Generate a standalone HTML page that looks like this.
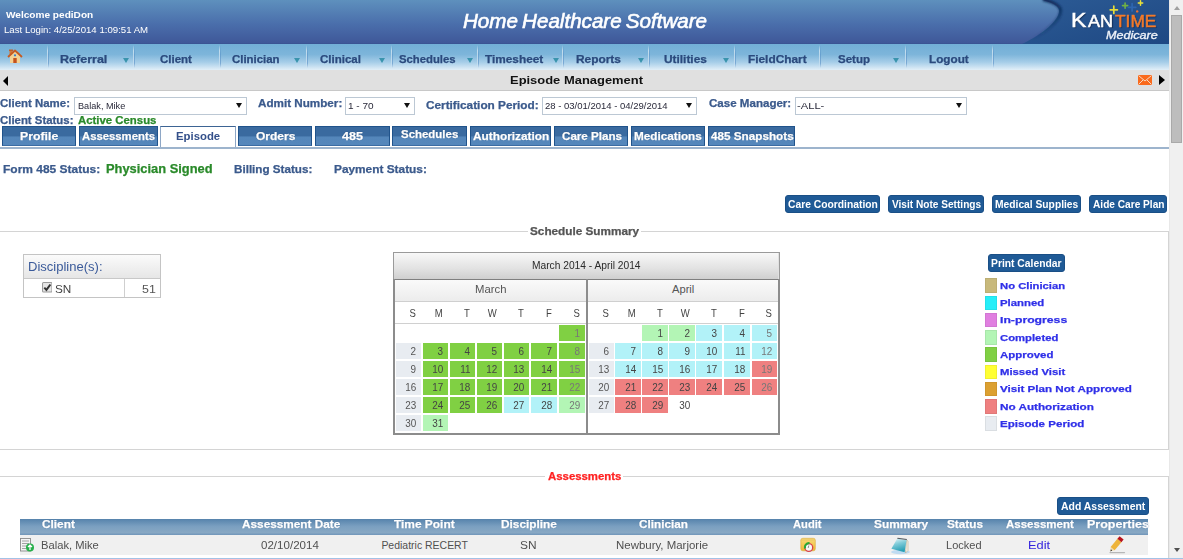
<!DOCTYPE html>
<html><head><meta charset="utf-8"><title>Episode Management</title>
<style>
html,body{margin:0;padding:0;}
body{width:1183px;height:559px;overflow:hidden;position:relative;background:#fff;font-family:"Liberation Sans", sans-serif;}
.b{position:absolute;box-sizing:border-box;}
.t{position:absolute;white-space:nowrap;line-height:1;transform-origin:0 0;}
</style></head><body>
<div class="b" style="left:0px;top:0px;width:1169px;height:44px;background:linear-gradient(#5e90bd,#4a6eab 55%,#3f5899 97%,#3a5494 97%);"></div><svg class="b" style="left:1000px;top:0;width:169px;height:44px" viewBox="0 0 169 44">
<defs><linearGradient id="lg" x1="0" y1="0" x2="1" y2="1"><stop offset="0" stop-color="#2c5b95"/><stop offset="1" stop-color="#1e4883"/></linearGradient>
<filter id="bl" x="-20%" y="-20%" width="140%" height="140%"><feGaussianBlur stdDeviation="0.9"/></filter>
<linearGradient id="sh" gradientUnits="userSpaceOnUse" x1="0" y1="0" x2="0" y2="40"><stop offset="0" stop-color="#0a2450" stop-opacity="0.9"/><stop offset="0.45" stop-color="#0a2450" stop-opacity="0.45"/><stop offset="1" stop-color="#0a2450" stop-opacity="0"/></linearGradient></defs>
<path d="M42,0 C54,3 60,7 59,12 C58,20 45,33 22,44 L169,44 L169,0 Z" fill="url(#lg)"/>
<path d="M43,-0.5 C55,2.5 61.5,7 60.5,12 C59.5,20 46.5,33 23.5,44" fill="none" stroke="url(#sh)" stroke-width="3.2" filter="url(#bl)"/>
<g stroke-linecap="round">
<path d="M113.8,6.2 v7.2 M110.2,9.8 h7.2" stroke="#e6dc38" stroke-width="1.7"/>
<path d="M125.1,3 v5.2 M122.5,5.6 h5.2" stroke="#70b244" stroke-width="1.6"/>
<path d="M132.1,3.6 v7.4 M128.4,7.3 h7.4" stroke="#2e66b0" stroke-width="1.7"/>
<path d="M140.5,0.8 v4.4 M138.3,3 h4.4" stroke="#ece23a" stroke-width="1.5"/>
</g>
<circle cx="137.2" cy="11.4" r="1.2" fill="#f07030"/>
</svg><div class="b" style="left:0px;top:44px;width:1169px;height:26px;background:linear-gradient(#72afd7 0px,#7db5da 40%,#a6cde8 70%,#e2eff8 100%);"></div><div class="b" style="left:48px;top:45px;width:1px;height:23px;background:linear-gradient(rgba(60,120,185,0),rgba(60,120,185,.35) 40%,rgba(60,120,185,.45) 80%,rgba(60,120,185,0));"></div><div class="b" style="left:47px;top:45px;width:1px;height:23px;background:linear-gradient(rgba(255,255,255,0),rgba(255,255,255,.55) 25%,rgba(255,255,255,.35) 70%,rgba(255,255,255,0));"></div><div class="b" style="left:134px;top:45px;width:1px;height:23px;background:linear-gradient(rgba(60,120,185,0),rgba(60,120,185,.35) 40%,rgba(60,120,185,.45) 80%,rgba(60,120,185,0));"></div><div class="b" style="left:133px;top:45px;width:1px;height:23px;background:linear-gradient(rgba(255,255,255,0),rgba(255,255,255,.55) 25%,rgba(255,255,255,.35) 70%,rgba(255,255,255,0));"></div><div class="b" style="left:220px;top:45px;width:1px;height:23px;background:linear-gradient(rgba(60,120,185,0),rgba(60,120,185,.35) 40%,rgba(60,120,185,.45) 80%,rgba(60,120,185,0));"></div><div class="b" style="left:219px;top:45px;width:1px;height:23px;background:linear-gradient(rgba(255,255,255,0),rgba(255,255,255,.55) 25%,rgba(255,255,255,.35) 70%,rgba(255,255,255,0));"></div><div class="b" style="left:307px;top:45px;width:1px;height:23px;background:linear-gradient(rgba(60,120,185,0),rgba(60,120,185,.35) 40%,rgba(60,120,185,.45) 80%,rgba(60,120,185,0));"></div><div class="b" style="left:306px;top:45px;width:1px;height:23px;background:linear-gradient(rgba(255,255,255,0),rgba(255,255,255,.55) 25%,rgba(255,255,255,.35) 70%,rgba(255,255,255,0));"></div><div class="b" style="left:392px;top:45px;width:1px;height:23px;background:linear-gradient(rgba(60,120,185,0),rgba(60,120,185,.35) 40%,rgba(60,120,185,.45) 80%,rgba(60,120,185,0));"></div><div class="b" style="left:391px;top:45px;width:1px;height:23px;background:linear-gradient(rgba(255,255,255,0),rgba(255,255,255,.55) 25%,rgba(255,255,255,.35) 70%,rgba(255,255,255,0));"></div><div class="b" style="left:478px;top:45px;width:1px;height:23px;background:linear-gradient(rgba(60,120,185,0),rgba(60,120,185,.35) 40%,rgba(60,120,185,.45) 80%,rgba(60,120,185,0));"></div><div class="b" style="left:477px;top:45px;width:1px;height:23px;background:linear-gradient(rgba(255,255,255,0),rgba(255,255,255,.55) 25%,rgba(255,255,255,.35) 70%,rgba(255,255,255,0));"></div><div class="b" style="left:563px;top:45px;width:1px;height:23px;background:linear-gradient(rgba(60,120,185,0),rgba(60,120,185,.35) 40%,rgba(60,120,185,.45) 80%,rgba(60,120,185,0));"></div><div class="b" style="left:562px;top:45px;width:1px;height:23px;background:linear-gradient(rgba(255,255,255,0),rgba(255,255,255,.55) 25%,rgba(255,255,255,.35) 70%,rgba(255,255,255,0));"></div><div class="b" style="left:649px;top:45px;width:1px;height:23px;background:linear-gradient(rgba(60,120,185,0),rgba(60,120,185,.35) 40%,rgba(60,120,185,.45) 80%,rgba(60,120,185,0));"></div><div class="b" style="left:648px;top:45px;width:1px;height:23px;background:linear-gradient(rgba(255,255,255,0),rgba(255,255,255,.55) 25%,rgba(255,255,255,.35) 70%,rgba(255,255,255,0));"></div><div class="b" style="left:735px;top:45px;width:1px;height:23px;background:linear-gradient(rgba(60,120,185,0),rgba(60,120,185,.35) 40%,rgba(60,120,185,.45) 80%,rgba(60,120,185,0));"></div><div class="b" style="left:734px;top:45px;width:1px;height:23px;background:linear-gradient(rgba(255,255,255,0),rgba(255,255,255,.55) 25%,rgba(255,255,255,.35) 70%,rgba(255,255,255,0));"></div><div class="b" style="left:820px;top:45px;width:1px;height:23px;background:linear-gradient(rgba(60,120,185,0),rgba(60,120,185,.35) 40%,rgba(60,120,185,.45) 80%,rgba(60,120,185,0));"></div><div class="b" style="left:819px;top:45px;width:1px;height:23px;background:linear-gradient(rgba(255,255,255,0),rgba(255,255,255,.55) 25%,rgba(255,255,255,.35) 70%,rgba(255,255,255,0));"></div><div class="b" style="left:906px;top:45px;width:1px;height:23px;background:linear-gradient(rgba(60,120,185,0),rgba(60,120,185,.35) 40%,rgba(60,120,185,.45) 80%,rgba(60,120,185,0));"></div><div class="b" style="left:905px;top:45px;width:1px;height:23px;background:linear-gradient(rgba(255,255,255,0),rgba(255,255,255,.55) 25%,rgba(255,255,255,.35) 70%,rgba(255,255,255,0));"></div><div class="b" style="left:993px;top:45px;width:1px;height:23px;background:linear-gradient(rgba(60,120,185,0),rgba(60,120,185,.35) 40%,rgba(60,120,185,.45) 80%,rgba(60,120,185,0));"></div><div class="b" style="left:992px;top:45px;width:1px;height:23px;background:linear-gradient(rgba(255,255,255,0),rgba(255,255,255,.55) 25%,rgba(255,255,255,.35) 70%,rgba(255,255,255,0));"></div><div class="b" style="left:122.5px;top:58px;width:0;height:0;border-left:3px solid transparent;border-right:3px solid transparent;border-top:5px solid #3a94ad;"></div><div class="b" style="left:294.0px;top:58px;width:0;height:0;border-left:3px solid transparent;border-right:3px solid transparent;border-top:5px solid #3a94ad;"></div><div class="b" style="left:379.4px;top:58px;width:0;height:0;border-left:3px solid transparent;border-right:3px solid transparent;border-top:5px solid #3a94ad;"></div><div class="b" style="left:467.4px;top:58px;width:0;height:0;border-left:3px solid transparent;border-right:3px solid transparent;border-top:5px solid #3a94ad;"></div><div class="b" style="left:553.0px;top:58px;width:0;height:0;border-left:3px solid transparent;border-right:3px solid transparent;border-top:5px solid #3a94ad;"></div><div class="b" style="left:637.6px;top:58px;width:0;height:0;border-left:3px solid transparent;border-right:3px solid transparent;border-top:5px solid #3a94ad;"></div><div class="b" style="left:723.0px;top:58px;width:0;height:0;border-left:3px solid transparent;border-right:3px solid transparent;border-top:5px solid #3a94ad;"></div><div class="b" style="left:893.0px;top:58px;width:0;height:0;border-left:3px solid transparent;border-right:3px solid transparent;border-top:5px solid #3a94ad;"></div><svg class="b" style="left:7px;top:49px;width:16px;height:15px" viewBox="0 0 16 15">
<rect x="2.5" y="1" width="3" height="4" fill="#d07a3a"/>
<rect x="2" y="0.5" width="4" height="1.5" fill="#c0602a"/>
<path d="M3,7 L3,14 L13,14 L13,7 L8,2.5 Z" fill="#f4d193"/>
<path d="M1,8 L8,1.5 L15,8" fill="none" stroke="#c85a1e" stroke-width="1.8" stroke-linejoin="round"/>
<rect x="6.3" y="9" width="3.4" height="5" fill="#c4521c"/>
<circle cx="8" cy="6.3" r="1.1" fill="#2f7fd0"/>
</svg><div class="b" style="left:0px;top:70px;width:1169px;height:21px;background:#e0e0e0;border-bottom:1px solid #c8c8c8;"></div><div class="b" style="left:2.8px;top:75.5px;width:0;height:0;border-top:5px solid transparent;border-bottom:5px solid transparent;border-right:5.8px solid #000;"></div><div class="b" style="left:1159.3px;top:75.3px;width:0;height:0;border-top:5px solid transparent;border-bottom:5px solid transparent;border-left:6.2px solid #000;"></div><svg class="b" style="left:1138.2px;top:75.2px;width:14px;height:10px" viewBox="0 0 14 10">
<rect x="0" y="0" width="14" height="10" rx="1.2" fill="#fa6a1c"/>
<path d="M0.8,0.8 L7,6 L13.2,0.8 M0.8,9.2 L5,5 M13.2,9.2 L9,5" fill="none" stroke="#f6e6d6" stroke-width="0.9"/>
</svg><div class="b" style="left:74px;top:97px;width:173px;height:18px;border:1px solid #a9a9a9;border-color:#bcc8d4;background:#fff;"></div><div class="b" style="left:345px;top:97px;width:69.5px;height:18px;border:1px solid #a9a9a9;border-color:#bcc8d4;background:#fff;"></div><div class="b" style="left:542px;top:97px;width:155.39999999999998px;height:18px;border:1px solid #a9a9a9;border-color:#bcc8d4;background:#fff;"></div><div class="b" style="left:794.5px;top:97px;width:172.20000000000005px;height:18px;border:1px solid #a9a9a9;border-color:#bcc8d4;background:#fff;"></div><div class="b" style="left:235.6px;top:102.5px;width:0;height:0;border-left:3px solid transparent;border-right:3px solid transparent;border-top:5.5px solid #111;"></div><div class="b" style="left:403.6px;top:102.5px;width:0;height:0;border-left:3px solid transparent;border-right:3px solid transparent;border-top:5.5px solid #111;"></div><div class="b" style="left:686.0px;top:102.5px;width:0;height:0;border-left:3px solid transparent;border-right:3px solid transparent;border-top:5.5px solid #111;"></div><div class="b" style="left:955.5px;top:102.5px;width:0;height:0;border-left:3px solid transparent;border-right:3px solid transparent;border-top:5.5px solid #111;"></div><div class="b" style="left:2px;top:126px;width:74px;height:20px;border:1px solid #20538b;border-bottom-color:#3b6ca3;background:linear-gradient(#3a6a9f 0,#3a6a9f 50%,#5486ba 55%,#5587bb 100%);"></div><div class="b" style="left:79px;top:126px;width:79px;height:20px;border:1px solid #20538b;border-bottom-color:#3b6ca3;background:linear-gradient(#3a6a9f 0,#3a6a9f 50%,#5486ba 55%,#5587bb 100%);"></div><div class="b" style="left:238px;top:126px;width:74.39999999999998px;height:20px;border:1px solid #20538b;border-bottom-color:#3b6ca3;background:linear-gradient(#3a6a9f 0,#3a6a9f 50%,#5486ba 55%,#5587bb 100%);"></div><div class="b" style="left:315px;top:126px;width:74.5px;height:20px;border:1px solid #20538b;border-bottom-color:#3b6ca3;background:linear-gradient(#3a6a9f 0,#3a6a9f 50%,#5486ba 55%,#5587bb 100%);"></div><div class="b" style="left:392px;top:126px;width:74.69999999999999px;height:20px;border:1px solid #20538b;border-bottom-color:#3b6ca3;background:linear-gradient(#3a6a9f 0,#3a6a9f 50%,#5486ba 55%,#5587bb 100%);"></div><div class="b" style="left:469.7px;top:126px;width:81.30000000000001px;height:20px;border:1px solid #20538b;border-bottom-color:#3b6ca3;background:linear-gradient(#3a6a9f 0,#3a6a9f 50%,#5486ba 55%,#5587bb 100%);"></div><div class="b" style="left:553.8px;top:126px;width:74.40000000000009px;height:20px;border:1px solid #20538b;border-bottom-color:#3b6ca3;background:linear-gradient(#3a6a9f 0,#3a6a9f 50%,#5486ba 55%,#5587bb 100%);"></div><div class="b" style="left:631.1px;top:126px;width:74.29999999999995px;height:20px;border:1px solid #20538b;border-bottom-color:#3b6ca3;background:linear-gradient(#3a6a9f 0,#3a6a9f 50%,#5486ba 55%,#5587bb 100%);"></div><div class="b" style="left:707.9px;top:126px;width:87.20000000000005px;height:20px;border:1px solid #20538b;border-bottom-color:#3b6ca3;background:linear-gradient(#3a6a9f 0,#3a6a9f 50%,#5486ba 55%,#5587bb 100%);"></div><div class="b" style="left:160px;top:125.7px;width:75.5px;height:21.3px;border-top:1.6px solid #3d6494;border-left:1.8px solid #8ea7c6;border-right:1.4px solid #8ea7c6;background:#fff;"></div><div class="b" style="left:0px;top:147px;width:1169px;height:2px;background:#9db4cd;"></div><div class="b" style="left:785px;top:195.4px;width:95.29999999999995px;height:17.400000000000006px;background:#1f5a96;border-radius:3px;border:1px solid #1a4f86;"></div><div class="b" style="left:887.6px;top:195.4px;width:96.39999999999998px;height:17.400000000000006px;background:#1f5a96;border-radius:3px;border:1px solid #1a4f86;"></div><div class="b" style="left:991.5px;top:195.4px;width:89.5px;height:17.400000000000006px;background:#1f5a96;border-radius:3px;border:1px solid #1a4f86;"></div><div class="b" style="left:1088.7px;top:195.4px;width:78.59999999999991px;height:17.400000000000006px;background:#1f5a96;border-radius:3px;border:1px solid #1a4f86;"></div><div class="b" style="left:988.1px;top:254.4px;width:76.99999999999989px;height:17.49999999999997px;background:#1f5a96;border-radius:3px;border:1px solid #1a4f86;"></div><div class="b" style="left:1057.3px;top:497.1px;width:91.29999999999995px;height:18.299999999999955px;background:#1f5a96;border-radius:3px;border:1px solid #1a4f86;"></div><div class="b" style="left:0px;top:231px;width:527.7px;height:1px;background:#d4d4d4;"></div><div class="b" style="left:641.4px;top:231px;width:527.1px;height:1px;background:#d4d4d4;"></div><div class="b" style="left:1168px;top:231px;width:1px;height:219px;background:#d4d4d4;"></div><div class="b" style="left:0px;top:449px;width:1169px;height:1px;background:#d4d4d4;"></div><div class="b" style="left:0px;top:476px;width:545.4px;height:1px;background:#d4d4d4;"></div><div class="b" style="left:623px;top:476px;width:545.5px;height:1px;background:#d4d4d4;"></div><div class="b" style="left:1168px;top:476px;width:1px;height:83px;background:#d4d4d4;"></div><div class="b" style="left:23px;top:254px;width:138px;height:44px;border:1px solid #c4c4c4;background:#fff;"></div><div class="b" style="left:24px;top:255px;width:136px;height:24px;background:linear-gradient(#fbfbfb,#e6e6e6);border-bottom:1px solid #c8c8c8;"></div><div class="b" style="left:124px;top:279px;width:1px;height:18px;background:#cfcfcf;"></div><svg class="b" style="left:41.6px;top:282px;width:10.5px;height:10.5px" viewBox="0 0 10 10">
<rect x="0.5" y="0.5" width="9" height="9" rx="1" fill="#e6e6e6" stroke="#9a9a9a"/>
<path d="M2.2,5.4 L4.2,7.5 L8,2.4" fill="none" stroke="#333" stroke-width="1.9"/>
</svg><div class="b" style="left:393px;top:252px;width:387px;height:182px;border:1px solid #9a9a9a;background:#fff;"></div><div class="b" style="left:394px;top:253px;width:385px;height:26px;background:linear-gradient(#f8f8f8,#e2e2e2 60%,#cfcfcf);border-right:1px solid #e0e0e0;"></div><div class="b" style="left:393px;top:279px;width:387px;height:1px;background:#7f7f7f;"></div><div class="b" style="left:393px;top:279px;width:2px;height:155px;background:#8c8c8c;"></div><div class="b" style="left:778px;top:279px;width:2px;height:155px;background:#8c8c8c;"></div><div class="b" style="left:393px;top:433px;width:387px;height:2px;background:#8c8c8c;"></div><div class="b" style="left:586px;top:279px;width:2px;height:155px;background:#8c8c8c;"></div><div class="b" style="left:395px;top:280px;width:191px;height:21px;background:linear-gradient(#fafafa,#ececec);"></div><div class="b" style="left:588px;top:280px;width:190px;height:21px;background:linear-gradient(#fafafa,#ececec);"></div><div class="b" style="left:395px;top:301px;width:191px;height:1px;background:#cfcfcf;"></div><div class="b" style="left:588px;top:301px;width:190px;height:1px;background:#cfcfcf;"></div><div class="b" style="left:395px;top:323px;width:191px;height:1px;background:#d0d0d0;"></div><div class="b" style="left:588px;top:323px;width:190px;height:1px;background:#d0d0d0;"></div><div class="b" style="left:984.5px;top:278.0px;width:12px;height:14.5px;background:#c8b97b;border:1px solid rgba(0,0,0,0.06);"></div><div class="b" style="left:984.5px;top:295.5px;width:12px;height:14.5px;background:#26eef8;border:1px solid rgba(0,0,0,0.06);"></div><div class="b" style="left:984.5px;top:312.5px;width:12px;height:14.5px;background:#e07fe0;border:1px solid rgba(0,0,0,0.06);"></div><div class="b" style="left:984.5px;top:330.0px;width:12px;height:14.5px;background:#b3f5b5;border:1px solid rgba(0,0,0,0.06);"></div><div class="b" style="left:984.5px;top:347.0px;width:12px;height:14.5px;background:#80d043;border:1px solid rgba(0,0,0,0.06);"></div><div class="b" style="left:984.5px;top:364.5px;width:12px;height:14.5px;background:#ffff33;border:1px solid rgba(0,0,0,0.06);"></div><div class="b" style="left:984.5px;top:381.5px;width:12px;height:14.5px;background:#dca030;border:1px solid rgba(0,0,0,0.06);"></div><div class="b" style="left:984.5px;top:399.0px;width:12px;height:14.5px;background:#ef8080;border:1px solid rgba(0,0,0,0.06);"></div><div class="b" style="left:984.5px;top:416.0px;width:12px;height:14.5px;background:#e8ecf1;border:1px solid rgba(0,0,0,0.06);"></div><div class="b" style="left:20px;top:519px;width:1128px;height:16px;background:linear-gradient(#5683ac,#7a9fc0 45%,#88a8c4 85%,#6f95b9 100%);"></div><div class="b" style="left:20px;top:535px;width:1128px;height:20px;background:#f0f0f0;"></div><svg class="b" style="left:20px;top:538px;width:15px;height:14px" viewBox="0 0 15 14">
<rect x="0.5" y="0.5" width="10" height="12.5" fill="#f4f4f4" stroke="#8a8a8a" stroke-width="0.9"/>
<path d="M2,3 h7 M2,5.5 h7 M2,8 h5 M2,10.5 h4" stroke="#9a9a9a" stroke-width="0.9"/>
<circle cx="10" cy="9.5" r="4" fill="#27b04a"/>
<path d="M10,7 v5 M8,9 L10,7 L12,9" stroke="#fff" stroke-width="1.2" fill="none"/>
</svg><svg class="b" style="left:800px;top:537px;width:17px;height:17px" viewBox="0 0 17 17">
<defs><linearGradient id="ag" x1="0" y1="0" x2="0" y2="1"><stop offset="0" stop-color="#f8dc7a"/><stop offset="1" stop-color="#eeb632"/></linearGradient></defs>
<rect x="0.8" y="1.3" width="14.5" height="12.5" rx="2" fill="url(#ag)" stroke="#d9a638" stroke-width="0.6"/>
<path d="M1.5,3 h13" stroke="#e8c060" stroke-width="0.8"/>
<circle cx="8.8" cy="10.5" r="3.9" fill="#f4f8f6" stroke="#d8404a" stroke-width="1.3"/>
<path d="M5,11.5 A4.2,4.2 0 0 1 9.5,6.2" fill="none" stroke="#2aa836" stroke-width="2.2"/>
<path d="M8.8,8.5 L8.2,11" stroke="#777" stroke-width="0.8"/>
</svg><svg class="b" style="left:888px;top:536px;width:24px;height:19px" viewBox="0 0 24 19">
<defs><linearGradient id="sg" x1="0" y1="0" x2="0.3" y2="1"><stop offset="0" stop-color="#e8f8fb"/><stop offset="0.45" stop-color="#7fcbd8"/><stop offset="1" stop-color="#2aa0b6"/></linearGradient></defs>
<ellipse cx="12.5" cy="16" rx="9.5" ry="2.2" fill="#a9d2f2" opacity="0.7"/>
<path d="M18.6,4 L20,5 L20,14.5 L17.5,17 Z" fill="#f2f0e6" stroke="#b4a27a" stroke-width="0.5"/>
<path d="M9.1,2.8 L18.6,4 L16.6,16.3 L3.4,12.7 Z" fill="url(#sg)"/>
<path d="M9.6,1.8 L19,3 L18.6,4 L9.1,2.8 Z" fill="#555a60"/>
</svg><svg class="b" style="left:1106px;top:534px;width:22px;height:21px" viewBox="0 0 22 21">
<path d="M4,18.6 L18.5,18.6" stroke="#8a8a8a" stroke-width="1.2" opacity="0.55" stroke-linecap="round"/>
<path d="M8.65,16.27 L4.65,12.93 L4.4,17.3 Z" fill="#f2dcae"/>
<path d="M6.1,16.5 L4.9,15.3 L4.4,17.5 Z" fill="#222"/>
<path d="M8.65,16.27 L4.65,12.93 L11.4,4.83 L15.4,8.17 Z" fill="#eeb43a"/>
<path d="M15.4,8.17 L11.4,4.83 L13.6,2.13 L17.6,5.47 Z" fill="#b8141c"/>
</svg><div class="b" style="left:1169px;top:0px;width:14px;height:559px;background:#f0f0f0;border-left:1px solid #e8e8e8;"></div><div class="b" style="left:1171px;top:15px;width:11px;height:128px;background:#bdbdbd;border:1px solid #a9a9a9;"></div><div class="b" style="left:1173.5px;top:5.5px;width:0;height:0;border-left:3.5px solid transparent;border-right:3.5px solid transparent;border-bottom:4px solid #a0a0a0;"></div><div class="b" style="left:1173.5px;top:548px;width:0;height:0;border-left:3.5px solid transparent;border-right:3.5px solid transparent;border-top:4px solid #505050;"></div><div class="b" style="left:0px;top:558px;width:1183px;height:1px;background:#a3c2e6;"></div>
<span class="t" style="left:6.40px;top:11px;font-size:8.94px;color:#ffffff;font-weight:bold;transform:scaleX(1.1299);">Welcome pediDon</span><span class="t" style="left:4.32px;top:26px;font-size:8.94px;color:#ffffff;transform:scaleX(1.0803);">Last Login: 4/25/2014 1:09:51 AM</span><span class="t" style="left:463.20px;top:12px;font-size:19.60px;color:#ffffff;font-style:italic;transform:scaleX(1.0509);-webkit-text-stroke:0.6px #fff;word-spacing:-1.5px;">Home Healthcare Software</span><span class="t" style="left:1071.10px;top:9px;font-size:21.00px;color:#ffffff;transform:scaleX(1.1000);-webkit-text-stroke:0.5px #fff;text-shadow:1px 1px 1px rgba(0,0,20,.45);">K</span><span class="t" style="left:1087.50px;top:13px;font-size:16.50px;color:#ffffff;transform:scaleX(1.0955);-webkit-text-stroke:0.5px #fff;text-shadow:1px 1px 1px rgba(0,0,20,.45);">AN</span><span class="t" style="left:1114.90px;top:13px;font-size:16.50px;color:#f47a2a;transform:scaleX(1.0487);-webkit-text-stroke:0.5px #f47a2a;text-shadow:1px 1px 1px rgba(0,0,20,.45);">TIME</span><span class="t" style="left:1105.60px;top:30px;font-size:10.60px;color:#f0f4fa;font-style:italic;transform:scaleX(1.1884);-webkit-text-stroke:0.3px #f0f4fa;">Medicare</span><span class="t" style="left:59.77px;top:55px;font-size:10.20px;color:#2b4a7d;font-weight:bold;transform:scaleX(1.2297);-webkit-text-stroke:0.25px currentColor;">Referral</span><span class="t" style="left:160.00px;top:55px;font-size:10.20px;color:#2b4a7d;font-weight:bold;transform:scaleX(1.1250);-webkit-text-stroke:0.25px currentColor;">Client</span><span class="t" style="left:232.00px;top:55px;font-size:10.20px;color:#2b4a7d;font-weight:bold;transform:scaleX(1.1190);-webkit-text-stroke:0.25px currentColor;">Clinician</span><span class="t" style="left:320.30px;top:55px;font-size:10.20px;color:#2b4a7d;font-weight:bold;transform:scaleX(1.1278);-webkit-text-stroke:0.25px currentColor;">Clinical</span><span class="t" style="left:399.40px;top:55px;font-size:10.20px;color:#2b4a7d;font-weight:bold;transform:scaleX(1.1098);-webkit-text-stroke:0.25px currentColor;">Schedules</span><span class="t" style="left:485.00px;top:55px;font-size:10.20px;color:#2b4a7d;font-weight:bold;transform:scaleX(1.1600);-webkit-text-stroke:0.25px currentColor;">Timesheet</span><span class="t" style="left:576.03px;top:55px;font-size:10.20px;color:#2b4a7d;font-weight:bold;transform:scaleX(1.1676);-webkit-text-stroke:0.25px currentColor;">Reports</span><span class="t" style="left:663.50px;top:55px;font-size:10.20px;color:#2b4a7d;font-weight:bold;transform:scaleX(1.1649);-webkit-text-stroke:0.25px currentColor;">Utilities</span><span class="t" style="left:747.84px;top:55px;font-size:10.20px;color:#2b4a7d;font-weight:bold;transform:scaleX(1.1633);-webkit-text-stroke:0.25px currentColor;">FieldChart</span><span class="t" style="left:838.00px;top:55px;font-size:10.20px;color:#2b4a7d;font-weight:bold;transform:scaleX(1.1286);-webkit-text-stroke:0.25px currentColor;">Setup</span><span class="t" style="left:928.85px;top:55px;font-size:10.20px;color:#2b4a7d;font-weight:bold;transform:scaleX(1.1515);-webkit-text-stroke:0.25px currentColor;">Logout</span><span class="t" style="left:509.67px;top:75px;font-size:11.45px;color:#111111;font-weight:bold;transform:scaleX(1.1310);">Episode Management</span><span class="t" style="left:0.30px;top:99px;font-size:10.40px;color:#3b5a8c;font-weight:bold;transform:scaleX(1.1016);-webkit-text-stroke:0.25px currentColor;">Client Name:</span><span class="t" style="left:258.30px;top:99px;font-size:10.40px;color:#3b5a8c;font-weight:bold;transform:scaleX(1.1230);-webkit-text-stroke:0.25px currentColor;">Admit Number:</span><span class="t" style="left:426.00px;top:101px;font-size:10.40px;color:#3b5a8c;font-weight:bold;transform:scaleX(1.1347);-webkit-text-stroke:0.25px currentColor;">Certification Period:</span><span class="t" style="left:708.80px;top:99px;font-size:10.40px;color:#3b5a8c;font-weight:bold;transform:scaleX(1.1123);-webkit-text-stroke:0.25px currentColor;">Case Manager:</span><span class="t" style="left:0.30px;top:116px;font-size:10.20px;color:#3b5a8c;font-weight:bold;transform:scaleX(1.1185);-webkit-text-stroke:0.25px currentColor;">Client Status:</span><span class="t" style="left:77.80px;top:116px;font-size:10.20px;color:#2a8a2a;font-weight:bold;transform:scaleX(1.1171);-webkit-text-stroke:0.25px currentColor;">Active Census</span><span class="t" style="left:77.57px;top:101px;font-size:9.90px;color:#2a2a3a;transform:scaleX(0.9265);">Balak, Mike</span><span class="t" style="left:348.49px;top:101px;font-size:9.90px;color:#2a2a3a;transform:scaleX(1.0125);">1 - 70</span><span class="t" style="left:544.74px;top:101px;font-size:9.90px;color:#2a2a3a;transform:scaleX(0.9627);">28 - 03/01/2014 - 04/29/2014</span><span class="t" style="left:796.57px;top:101px;font-size:9.90px;color:#2a2a3a;transform:scaleX(1.1318);">-ALL-</span><span class="t" style="left:19.81px;top:132px;font-size:10.30px;color:#ffffff;font-weight:bold;transform:scaleX(1.1935);text-shadow:0 0 1px #1a3a66;-webkit-text-stroke:0.25px currentColor;">Profile</span><span class="t" style="left:82.20px;top:132px;font-size:10.30px;color:#ffffff;font-weight:bold;transform:scaleX(1.0985);text-shadow:0 0 1px #1a3a66;-webkit-text-stroke:0.25px currentColor;">Assessments</span><span class="t" style="left:255.80px;top:132px;font-size:10.30px;color:#ffffff;font-weight:bold;transform:scaleX(1.1667);text-shadow:0 0 1px #1a3a66;-webkit-text-stroke:0.25px currentColor;">Orders</span><span class="t" style="left:341.80px;top:132px;font-size:10.30px;color:#ffffff;font-weight:bold;transform:scaleX(1.2235);text-shadow:0 0 1px #1a3a66;-webkit-text-stroke:0.25px currentColor;">485</span><span class="t" style="left:401.20px;top:130px;font-size:10.30px;color:#ffffff;font-weight:bold;transform:scaleX(1.1118);text-shadow:0 0 1px #1a3a66;-webkit-text-stroke:0.25px currentColor;">Schedules</span><span class="t" style="left:472.60px;top:132px;font-size:10.30px;color:#ffffff;font-weight:bold;transform:scaleX(1.1485);text-shadow:0 0 1px #1a3a66;-webkit-text-stroke:0.25px currentColor;">Authorization</span><span class="t" style="left:561.60px;top:132px;font-size:10.30px;color:#ffffff;font-weight:bold;transform:scaleX(1.1283);text-shadow:0 0 1px #1a3a66;-webkit-text-stroke:0.25px currentColor;">Care Plans</span><span class="t" style="left:634.46px;top:132px;font-size:10.30px;color:#ffffff;font-weight:bold;transform:scaleX(1.1397);text-shadow:0 0 1px #1a3a66;-webkit-text-stroke:0.25px currentColor;">Medications</span><span class="t" style="left:711.00px;top:132px;font-size:10.30px;color:#ffffff;font-weight:bold;transform:scaleX(1.1375);text-shadow:0 0 1px #1a3a66;-webkit-text-stroke:0.25px currentColor;">485 Snapshots</span><span class="t" style="left:175.90px;top:132px;font-size:10.30px;color:#34508a;font-weight:bold;transform:scaleX(1.1026);">Episode</span><span class="t" style="left:2.99px;top:164px;font-size:10.80px;color:#3b5a8c;font-weight:bold;transform:scaleX(1.1093);-webkit-text-stroke:0.25px currentColor;">Form 485 Status:</span><span class="t" style="left:106.44px;top:163px;font-size:12.20px;color:#2a8a2a;font-weight:bold;transform:scaleX(1.0556);-webkit-text-stroke:0.25px currentColor;">Physician Signed</span><span class="t" style="left:233.92px;top:164px;font-size:10.80px;color:#3b5a8c;font-weight:bold;transform:scaleX(1.0789);-webkit-text-stroke:0.25px currentColor;">Billing Status:</span><span class="t" style="left:334.30px;top:164px;font-size:10.80px;color:#3b5a8c;font-weight:bold;transform:scaleX(1.0976);-webkit-text-stroke:0.25px currentColor;">Payment Status:</span><span class="t" style="left:788.36px;top:199px;font-size:11.03px;color:#ffffff;font-weight:bold;transform:scaleX(0.9351);">Care Coordination</span><span class="t" style="left:891.50px;top:199px;font-size:11.03px;color:#ffffff;font-weight:bold;transform:scaleX(0.9175);">Visit Note Settings</span><span class="t" style="left:994.57px;top:199px;font-size:11.03px;color:#ffffff;font-weight:bold;transform:scaleX(0.9318);">Medical Supplies</span><span class="t" style="left:1092.70px;top:199px;font-size:11.03px;color:#ffffff;font-weight:bold;transform:scaleX(0.9195);">Aide Care Plan</span><span class="t" style="left:529.80px;top:227px;font-size:10.30px;color:#555555;font-weight:bold;transform:scaleX(1.1417);-webkit-text-stroke:0.25px currentColor;">Schedule Summary</span><span class="t" style="left:547.80px;top:472px;font-size:10.40px;color:#ff2222;font-weight:bold;transform:scaleX(1.0955);-webkit-text-stroke:0.25px currentColor;">Assessments</span><span class="t" style="left:27.71px;top:261px;font-size:12.01px;color:#3a5a9a;transform:scaleX(1.0851);">Discipline(s):</span><span class="t" style="left:54.83px;top:284px;font-size:11.03px;color:#444444;transform:scaleX(1.0692);">SN</span><span class="t" style="left:141.67px;top:284px;font-size:11.03px;color:#555555;transform:scaleX(1.1273);">51</span><span class="t" style="left:532.09px;top:260px;font-size:11.31px;color:#2a2a2a;transform:scaleX(0.9050);">March 2014 - April 2014</span><span class="t" style="left:474.62px;top:285px;font-size:10.47px;color:#555555;transform:scaleX(1.0815);">March</span><span class="t" style="left:672.00px;top:284px;font-size:11.17px;color:#555555;">April</span><span class="t" style="left:991.03px;top:258px;font-size:10.61px;color:#ffffff;font-weight:bold;transform:scaleX(0.9722);">Print Calendar</span><span class="t" style="left:1061.10px;top:501px;font-size:11.17px;color:#ffffff;font-weight:bold;transform:scaleX(0.9356);">Add Assessment</span><span class="t" style="left:41.60px;top:520px;font-size:10.40px;color:#ffffff;font-weight:bold;transform:scaleX(1.1379);text-shadow:0 0 1px #3a5f88;-webkit-text-stroke:0.25px currentColor;">Client</span><span class="t" style="left:242.40px;top:520px;font-size:10.40px;color:#ffffff;font-weight:bold;transform:scaleX(1.1349);text-shadow:0 0 1px #3a5f88;-webkit-text-stroke:0.25px currentColor;">Assessment Date</span><span class="t" style="left:394.20px;top:520px;font-size:10.40px;color:#ffffff;font-weight:bold;transform:scaleX(1.1453);text-shadow:0 0 1px #3a5f88;-webkit-text-stroke:0.25px currentColor;">Time Point</span><span class="t" style="left:501.06px;top:520px;font-size:10.40px;color:#ffffff;font-weight:bold;transform:scaleX(1.1396);text-shadow:0 0 1px #3a5f88;-webkit-text-stroke:0.25px currentColor;">Discipline</span><span class="t" style="left:638.60px;top:520px;font-size:10.40px;color:#ffffff;font-weight:bold;transform:scaleX(1.1279);text-shadow:0 0 1px #3a5f88;-webkit-text-stroke:0.25px currentColor;">Clinician</span><span class="t" style="left:793.00px;top:520px;font-size:10.40px;color:#ffffff;font-weight:bold;transform:scaleX(1.0741);text-shadow:0 0 1px #3a5f88;-webkit-text-stroke:0.25px currentColor;">Audit</span><span class="t" style="left:873.80px;top:520px;font-size:10.40px;color:#ffffff;font-weight:bold;transform:scaleX(1.1447);text-shadow:0 0 1px #3a5f88;-webkit-text-stroke:0.25px currentColor;">Summary</span><span class="t" style="left:946.70px;top:520px;font-size:10.40px;color:#ffffff;font-weight:bold;transform:scaleX(1.1344);text-shadow:0 0 1px #3a5f88;-webkit-text-stroke:0.25px currentColor;">Status</span><span class="t" style="left:1006.30px;top:520px;font-size:10.40px;color:#ffffff;font-weight:bold;transform:scaleX(1.1066);text-shadow:0 0 1px #3a5f88;-webkit-text-stroke:0.25px currentColor;">Assessment</span><span class="t" style="left:1086.50px;top:520px;font-size:10.40px;color:#ffffff;font-weight:bold;transform:scaleX(1.2040);text-shadow:0 0 1px #3a5f88;-webkit-text-stroke:0.25px currentColor;">Properties</span><span class="t" style="left:40.53px;top:541px;font-size:10.47px;color:#505050;transform:scaleX(1.0679);">Balak, Mike</span><span class="t" style="left:261.40px;top:541px;font-size:10.47px;color:#505050;transform:scaleX(1.1039);">02/10/2014</span><span class="t" style="left:381.40px;top:541px;font-size:10.47px;color:#505050;">Pediatric RECERT</span><span class="t" style="left:520.26px;top:541px;font-size:10.47px;color:#505050;transform:scaleX(1.1385);">SN</span><span class="t" style="left:615.91px;top:541px;font-size:10.47px;color:#505050;transform:scaleX(1.0940);">Newbury, Marjorie</span><span class="t" style="left:946.45px;top:541px;font-size:10.47px;color:#505050;transform:scaleX(1.0531);">Locked</span><span class="t" style="left:1028.18px;top:541px;font-size:10.47px;color:#3322dd;transform:scaleX(1.2235);">Edit</span><span class="t" style="left:999.90px;top:281px;font-size:9.90px;color:#2f2fe8;font-weight:bold;transform:scaleX(1.1404);-webkit-text-stroke:0.25px currentColor;">No Clinician</span><span class="t" style="left:999.90px;top:298px;font-size:9.90px;color:#2f2fe8;font-weight:bold;transform:scaleX(1.1526);-webkit-text-stroke:0.25px currentColor;">Planned</span><span class="t" style="left:999.90px;top:315px;font-size:9.90px;color:#2f2fe8;font-weight:bold;transform:scaleX(1.2370);-webkit-text-stroke:0.25px currentColor;">In-progress</span><span class="t" style="left:999.90px;top:333px;font-size:9.90px;color:#2f2fe8;font-weight:bold;transform:scaleX(1.1431);-webkit-text-stroke:0.25px currentColor;">Completed</span><span class="t" style="left:999.90px;top:350px;font-size:9.90px;color:#2f2fe8;font-weight:bold;transform:scaleX(1.1587);-webkit-text-stroke:0.25px currentColor;">Approved</span><span class="t" style="left:999.90px;top:367px;font-size:9.90px;color:#2f2fe8;font-weight:bold;transform:scaleX(1.1456);-webkit-text-stroke:0.25px currentColor;">Missed Visit</span><span class="t" style="left:999.90px;top:384px;font-size:9.90px;color:#2f2fe8;font-weight:bold;transform:scaleX(1.1777);-webkit-text-stroke:0.25px currentColor;">Visit Plan Not Approved</span><span class="t" style="left:999.90px;top:402px;font-size:9.90px;color:#2f2fe8;font-weight:bold;transform:scaleX(1.1861);-webkit-text-stroke:0.25px currentColor;">No Authorization</span><span class="t" style="left:999.90px;top:419px;font-size:9.90px;color:#2f2fe8;font-weight:bold;transform:scaleX(1.1732);-webkit-text-stroke:0.25px currentColor;">Episode Period</span>
<div class="b" style="left:559px;top:325px;width:26px;height:16px;background:#80d043;"><span style="position:absolute;right:4.7px;top:2.8px;font-size:11px;line-height:11px;color:#777777;transform:scaleX(0.9);transform-origin:100% 0;">1</span></div><div class="b" style="left:396px;top:343px;width:25px;height:16px;background:#e8ecf1;"><span style="position:absolute;right:4.7px;top:2.8px;font-size:11px;line-height:11px;color:#555555;transform:scaleX(0.9);transform-origin:100% 0;">2</span></div><div class="b" style="left:423px;top:343px;width:25px;height:16px;background:#80d043;"><span style="position:absolute;right:4.7px;top:2.8px;font-size:11px;line-height:11px;color:#444444;transform:scaleX(0.9);transform-origin:100% 0;">3</span></div><div class="b" style="left:450px;top:343px;width:25px;height:16px;background:#80d043;"><span style="position:absolute;right:4.7px;top:2.8px;font-size:11px;line-height:11px;color:#444444;transform:scaleX(0.9);transform-origin:100% 0;">4</span></div><div class="b" style="left:477px;top:343px;width:25px;height:16px;background:#80d043;"><span style="position:absolute;right:4.7px;top:2.8px;font-size:11px;line-height:11px;color:#444444;transform:scaleX(0.9);transform-origin:100% 0;">5</span></div><div class="b" style="left:504px;top:343px;width:25px;height:16px;background:#80d043;"><span style="position:absolute;right:4.7px;top:2.8px;font-size:11px;line-height:11px;color:#444444;transform:scaleX(0.9);transform-origin:100% 0;">6</span></div><div class="b" style="left:531px;top:343px;width:26px;height:16px;background:#80d043;"><span style="position:absolute;right:4.7px;top:2.8px;font-size:11px;line-height:11px;color:#444444;transform:scaleX(0.9);transform-origin:100% 0;">7</span></div><div class="b" style="left:559px;top:343px;width:26px;height:16px;background:#80d043;"><span style="position:absolute;right:4.7px;top:2.8px;font-size:11px;line-height:11px;color:#777777;transform:scaleX(0.9);transform-origin:100% 0;">8</span></div><div class="b" style="left:396px;top:361px;width:25px;height:16px;background:#e8ecf1;"><span style="position:absolute;right:4.7px;top:2.8px;font-size:11px;line-height:11px;color:#555555;transform:scaleX(0.9);transform-origin:100% 0;">9</span></div><div class="b" style="left:423px;top:361px;width:25px;height:16px;background:#80d043;"><span style="position:absolute;right:4.7px;top:2.8px;font-size:11px;line-height:11px;color:#444444;transform:scaleX(0.9);transform-origin:100% 0;">10</span></div><div class="b" style="left:450px;top:361px;width:25px;height:16px;background:#80d043;"><span style="position:absolute;right:4.7px;top:2.8px;font-size:11px;line-height:11px;color:#444444;transform:scaleX(0.9);transform-origin:100% 0;">11</span></div><div class="b" style="left:477px;top:361px;width:25px;height:16px;background:#80d043;"><span style="position:absolute;right:4.7px;top:2.8px;font-size:11px;line-height:11px;color:#444444;transform:scaleX(0.9);transform-origin:100% 0;">12</span></div><div class="b" style="left:504px;top:361px;width:25px;height:16px;background:#80d043;"><span style="position:absolute;right:4.7px;top:2.8px;font-size:11px;line-height:11px;color:#444444;transform:scaleX(0.9);transform-origin:100% 0;">13</span></div><div class="b" style="left:531px;top:361px;width:26px;height:16px;background:#80d043;"><span style="position:absolute;right:4.7px;top:2.8px;font-size:11px;line-height:11px;color:#444444;transform:scaleX(0.9);transform-origin:100% 0;">14</span></div><div class="b" style="left:559px;top:361px;width:26px;height:16px;background:#80d043;"><span style="position:absolute;right:4.7px;top:2.8px;font-size:11px;line-height:11px;color:#777777;transform:scaleX(0.9);transform-origin:100% 0;">15</span></div><div class="b" style="left:396px;top:379px;width:25px;height:16px;background:#e8ecf1;"><span style="position:absolute;right:4.7px;top:2.8px;font-size:11px;line-height:11px;color:#555555;transform:scaleX(0.9);transform-origin:100% 0;">16</span></div><div class="b" style="left:423px;top:379px;width:25px;height:16px;background:#80d043;"><span style="position:absolute;right:4.7px;top:2.8px;font-size:11px;line-height:11px;color:#444444;transform:scaleX(0.9);transform-origin:100% 0;">17</span></div><div class="b" style="left:450px;top:379px;width:25px;height:16px;background:#80d043;"><span style="position:absolute;right:4.7px;top:2.8px;font-size:11px;line-height:11px;color:#444444;transform:scaleX(0.9);transform-origin:100% 0;">18</span></div><div class="b" style="left:477px;top:379px;width:25px;height:16px;background:#80d043;"><span style="position:absolute;right:4.7px;top:2.8px;font-size:11px;line-height:11px;color:#444444;transform:scaleX(0.9);transform-origin:100% 0;">19</span></div><div class="b" style="left:504px;top:379px;width:25px;height:16px;background:#80d043;"><span style="position:absolute;right:4.7px;top:2.8px;font-size:11px;line-height:11px;color:#444444;transform:scaleX(0.9);transform-origin:100% 0;">20</span></div><div class="b" style="left:531px;top:379px;width:26px;height:16px;background:#80d043;"><span style="position:absolute;right:4.7px;top:2.8px;font-size:11px;line-height:11px;color:#444444;transform:scaleX(0.9);transform-origin:100% 0;">21</span></div><div class="b" style="left:559px;top:379px;width:26px;height:16px;background:#80d043;"><span style="position:absolute;right:4.7px;top:2.8px;font-size:11px;line-height:11px;color:#777777;transform:scaleX(0.9);transform-origin:100% 0;">22</span></div><div class="b" style="left:396px;top:397px;width:25px;height:16px;background:#e8ecf1;"><span style="position:absolute;right:4.7px;top:2.8px;font-size:11px;line-height:11px;color:#555555;transform:scaleX(0.9);transform-origin:100% 0;">23</span></div><div class="b" style="left:423px;top:397px;width:25px;height:16px;background:#80d043;"><span style="position:absolute;right:4.7px;top:2.8px;font-size:11px;line-height:11px;color:#444444;transform:scaleX(0.9);transform-origin:100% 0;">24</span></div><div class="b" style="left:450px;top:397px;width:25px;height:16px;background:#80d043;"><span style="position:absolute;right:4.7px;top:2.8px;font-size:11px;line-height:11px;color:#444444;transform:scaleX(0.9);transform-origin:100% 0;">25</span></div><div class="b" style="left:477px;top:397px;width:25px;height:16px;background:#80d043;"><span style="position:absolute;right:4.7px;top:2.8px;font-size:11px;line-height:11px;color:#444444;transform:scaleX(0.9);transform-origin:100% 0;">26</span></div><div class="b" style="left:504px;top:397px;width:25px;height:16px;background:#b2f2f8;"><span style="position:absolute;right:4.7px;top:2.8px;font-size:11px;line-height:11px;color:#444444;transform:scaleX(0.9);transform-origin:100% 0;">27</span></div><div class="b" style="left:531px;top:397px;width:26px;height:16px;background:#b2f2f8;"><span style="position:absolute;right:4.7px;top:2.8px;font-size:11px;line-height:11px;color:#444444;transform:scaleX(0.9);transform-origin:100% 0;">28</span></div><div class="b" style="left:559px;top:397px;width:26px;height:16px;background:#b3f5b5;"><span style="position:absolute;right:4.7px;top:2.8px;font-size:11px;line-height:11px;color:#777777;transform:scaleX(0.9);transform-origin:100% 0;">29</span></div><div class="b" style="left:396px;top:415px;width:25px;height:16px;background:#e8ecf1;"><span style="position:absolute;right:4.7px;top:2.8px;font-size:11px;line-height:11px;color:#555555;transform:scaleX(0.9);transform-origin:100% 0;">30</span></div><div class="b" style="left:423px;top:415px;width:25px;height:16px;background:#b3f5b5;"><span style="position:absolute;right:4.7px;top:2.8px;font-size:11px;line-height:11px;color:#444444;transform:scaleX(0.9);transform-origin:100% 0;">31</span></div><div class="b" style="left:642px;top:325px;width:26px;height:16px;background:#b3f5b5;"><span style="position:absolute;right:4.7px;top:2.8px;font-size:11px;line-height:11px;color:#444444;transform:scaleX(0.9);transform-origin:100% 0;">1</span></div><div class="b" style="left:669px;top:325px;width:26px;height:16px;background:#b3f5b5;"><span style="position:absolute;right:4.7px;top:2.8px;font-size:11px;line-height:11px;color:#444444;transform:scaleX(0.9);transform-origin:100% 0;">2</span></div><div class="b" style="left:696px;top:325px;width:26px;height:16px;background:#b2f2f8;"><span style="position:absolute;right:4.7px;top:2.8px;font-size:11px;line-height:11px;color:#444444;transform:scaleX(0.9);transform-origin:100% 0;">3</span></div><div class="b" style="left:724px;top:325px;width:26px;height:16px;background:#b2f2f8;"><span style="position:absolute;right:4.7px;top:2.8px;font-size:11px;line-height:11px;color:#444444;transform:scaleX(0.9);transform-origin:100% 0;">4</span></div><div class="b" style="left:752px;top:325px;width:25px;height:16px;background:#b2f2f8;"><span style="position:absolute;right:4.7px;top:2.8px;font-size:11px;line-height:11px;color:#777777;transform:scaleX(0.9);transform-origin:100% 0;">5</span></div><div class="b" style="left:589px;top:343px;width:25px;height:16px;background:#e8ecf1;"><span style="position:absolute;right:4.7px;top:2.8px;font-size:11px;line-height:11px;color:#555555;transform:scaleX(0.9);transform-origin:100% 0;">6</span></div><div class="b" style="left:615px;top:343px;width:26px;height:16px;background:#b2f2f8;"><span style="position:absolute;right:4.7px;top:2.8px;font-size:11px;line-height:11px;color:#444444;transform:scaleX(0.9);transform-origin:100% 0;">7</span></div><div class="b" style="left:642px;top:343px;width:26px;height:16px;background:#b2f2f8;"><span style="position:absolute;right:4.7px;top:2.8px;font-size:11px;line-height:11px;color:#444444;transform:scaleX(0.9);transform-origin:100% 0;">8</span></div><div class="b" style="left:669px;top:343px;width:26px;height:16px;background:#b2f2f8;"><span style="position:absolute;right:4.7px;top:2.8px;font-size:11px;line-height:11px;color:#444444;transform:scaleX(0.9);transform-origin:100% 0;">9</span></div><div class="b" style="left:696px;top:343px;width:26px;height:16px;background:#b2f2f8;"><span style="position:absolute;right:4.7px;top:2.8px;font-size:11px;line-height:11px;color:#444444;transform:scaleX(0.9);transform-origin:100% 0;">10</span></div><div class="b" style="left:724px;top:343px;width:26px;height:16px;background:#b2f2f8;"><span style="position:absolute;right:4.7px;top:2.8px;font-size:11px;line-height:11px;color:#444444;transform:scaleX(0.9);transform-origin:100% 0;">11</span></div><div class="b" style="left:752px;top:343px;width:25px;height:16px;background:#b2f2f8;"><span style="position:absolute;right:4.7px;top:2.8px;font-size:11px;line-height:11px;color:#777777;transform:scaleX(0.9);transform-origin:100% 0;">12</span></div><div class="b" style="left:589px;top:361px;width:25px;height:16px;background:#e8ecf1;"><span style="position:absolute;right:4.7px;top:2.8px;font-size:11px;line-height:11px;color:#555555;transform:scaleX(0.9);transform-origin:100% 0;">13</span></div><div class="b" style="left:615px;top:361px;width:26px;height:16px;background:#b2f2f8;"><span style="position:absolute;right:4.7px;top:2.8px;font-size:11px;line-height:11px;color:#444444;transform:scaleX(0.9);transform-origin:100% 0;">14</span></div><div class="b" style="left:642px;top:361px;width:26px;height:16px;background:#b2f2f8;"><span style="position:absolute;right:4.7px;top:2.8px;font-size:11px;line-height:11px;color:#444444;transform:scaleX(0.9);transform-origin:100% 0;">15</span></div><div class="b" style="left:669px;top:361px;width:26px;height:16px;background:#b2f2f8;"><span style="position:absolute;right:4.7px;top:2.8px;font-size:11px;line-height:11px;color:#444444;transform:scaleX(0.9);transform-origin:100% 0;">16</span></div><div class="b" style="left:696px;top:361px;width:26px;height:16px;background:#b2f2f8;"><span style="position:absolute;right:4.7px;top:2.8px;font-size:11px;line-height:11px;color:#444444;transform:scaleX(0.9);transform-origin:100% 0;">17</span></div><div class="b" style="left:724px;top:361px;width:26px;height:16px;background:#b2f2f8;"><span style="position:absolute;right:4.7px;top:2.8px;font-size:11px;line-height:11px;color:#444444;transform:scaleX(0.9);transform-origin:100% 0;">18</span></div><div class="b" style="left:752px;top:361px;width:25px;height:16px;background:#ef8080;"><span style="position:absolute;right:4.7px;top:2.8px;font-size:11px;line-height:11px;color:#777777;transform:scaleX(0.9);transform-origin:100% 0;">19</span></div><div class="b" style="left:589px;top:379px;width:25px;height:16px;background:#e8ecf1;"><span style="position:absolute;right:4.7px;top:2.8px;font-size:11px;line-height:11px;color:#555555;transform:scaleX(0.9);transform-origin:100% 0;">20</span></div><div class="b" style="left:615px;top:379px;width:26px;height:16px;background:#ef8080;"><span style="position:absolute;right:4.7px;top:2.8px;font-size:11px;line-height:11px;color:#444444;transform:scaleX(0.9);transform-origin:100% 0;">21</span></div><div class="b" style="left:642px;top:379px;width:26px;height:16px;background:#ef8080;"><span style="position:absolute;right:4.7px;top:2.8px;font-size:11px;line-height:11px;color:#444444;transform:scaleX(0.9);transform-origin:100% 0;">22</span></div><div class="b" style="left:669px;top:379px;width:26px;height:16px;background:#ef8080;"><span style="position:absolute;right:4.7px;top:2.8px;font-size:11px;line-height:11px;color:#444444;transform:scaleX(0.9);transform-origin:100% 0;">23</span></div><div class="b" style="left:696px;top:379px;width:26px;height:16px;background:#ef8080;"><span style="position:absolute;right:4.7px;top:2.8px;font-size:11px;line-height:11px;color:#444444;transform:scaleX(0.9);transform-origin:100% 0;">24</span></div><div class="b" style="left:724px;top:379px;width:26px;height:16px;background:#ef8080;"><span style="position:absolute;right:4.7px;top:2.8px;font-size:11px;line-height:11px;color:#444444;transform:scaleX(0.9);transform-origin:100% 0;">25</span></div><div class="b" style="left:752px;top:379px;width:25px;height:16px;background:#ef8080;"><span style="position:absolute;right:4.7px;top:2.8px;font-size:11px;line-height:11px;color:#777777;transform:scaleX(0.9);transform-origin:100% 0;">26</span></div><div class="b" style="left:589px;top:397px;width:25px;height:16px;background:#e8ecf1;"><span style="position:absolute;right:4.7px;top:2.8px;font-size:11px;line-height:11px;color:#555555;transform:scaleX(0.9);transform-origin:100% 0;">27</span></div><div class="b" style="left:615px;top:397px;width:26px;height:16px;background:#ef8080;"><span style="position:absolute;right:4.7px;top:2.8px;font-size:11px;line-height:11px;color:#444444;transform:scaleX(0.9);transform-origin:100% 0;">28</span></div><div class="b" style="left:642px;top:397px;width:26px;height:16px;background:#ef8080;"><span style="position:absolute;right:4.7px;top:2.8px;font-size:11px;line-height:11px;color:#444444;transform:scaleX(0.9);transform-origin:100% 0;">29</span></div><div class="b" style="left:669px;top:397px;width:26px;height:16px;"><span style="position:absolute;right:4.7px;top:2.8px;font-size:11px;line-height:11px;color:#444444;transform:scaleX(0.9);transform-origin:100% 0;">30</span></div><span style="position:absolute;left:396px;width:19.8px;text-align:right;top:308px;font-size:10.6px;line-height:11px;color:#444;transform:scaleX(0.9);transform-origin:100% 0;">S</span><span style="position:absolute;left:423px;width:19.8px;text-align:right;top:308px;font-size:10.6px;line-height:11px;color:#444;transform:scaleX(0.9);transform-origin:100% 0;">M</span><span style="position:absolute;left:450px;width:19.8px;text-align:right;top:308px;font-size:10.6px;line-height:11px;color:#444;transform:scaleX(0.9);transform-origin:100% 0;">T</span><span style="position:absolute;left:477px;width:19.8px;text-align:right;top:308px;font-size:10.6px;line-height:11px;color:#444;transform:scaleX(0.9);transform-origin:100% 0;">W</span><span style="position:absolute;left:504px;width:19.8px;text-align:right;top:308px;font-size:10.6px;line-height:11px;color:#444;transform:scaleX(0.9);transform-origin:100% 0;">T</span><span style="position:absolute;left:531px;width:20.8px;text-align:right;top:308px;font-size:10.6px;line-height:11px;color:#444;transform:scaleX(0.9);transform-origin:100% 0;">F</span><span style="position:absolute;left:559px;width:20.8px;text-align:right;top:308px;font-size:10.6px;line-height:11px;color:#444;transform:scaleX(0.9);transform-origin:100% 0;">S</span><span style="position:absolute;left:589px;width:19.8px;text-align:right;top:308px;font-size:10.6px;line-height:11px;color:#444;transform:scaleX(0.9);transform-origin:100% 0;">S</span><span style="position:absolute;left:615px;width:20.8px;text-align:right;top:308px;font-size:10.6px;line-height:11px;color:#444;transform:scaleX(0.9);transform-origin:100% 0;">M</span><span style="position:absolute;left:642px;width:20.8px;text-align:right;top:308px;font-size:10.6px;line-height:11px;color:#444;transform:scaleX(0.9);transform-origin:100% 0;">T</span><span style="position:absolute;left:669px;width:20.8px;text-align:right;top:308px;font-size:10.6px;line-height:11px;color:#444;transform:scaleX(0.9);transform-origin:100% 0;">W</span><span style="position:absolute;left:696px;width:20.8px;text-align:right;top:308px;font-size:10.6px;line-height:11px;color:#444;transform:scaleX(0.9);transform-origin:100% 0;">T</span><span style="position:absolute;left:724px;width:20.8px;text-align:right;top:308px;font-size:10.6px;line-height:11px;color:#444;transform:scaleX(0.9);transform-origin:100% 0;">F</span><span style="position:absolute;left:752px;width:19.8px;text-align:right;top:308px;font-size:10.6px;line-height:11px;color:#444;transform:scaleX(0.9);transform-origin:100% 0;">S</span>
</body></html>
